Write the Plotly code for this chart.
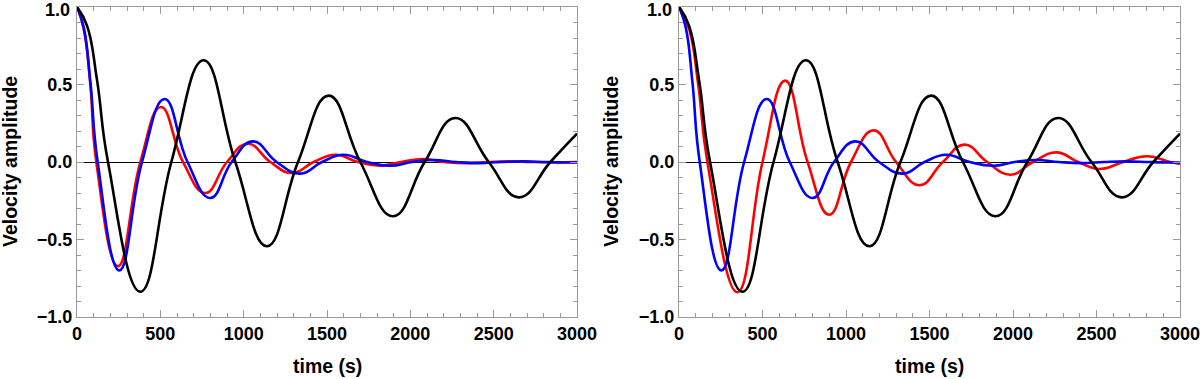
import plotly.graph_objects as go

# values (time in s, velocity amplitude)
t_black = [0, 60, 120, 186, 380, 566, 760, 950, 1140, 1326, 1510, 1700, 1896, 2086, 2270, 2470, 2652, 2840, 3000]
v_black = [1.0, 0.88, 0.53, 0.0, -0.837, 0.0, 0.656, 0.0, -0.544, 0.0, 0.428, 0.0, -0.35, 0.0, 0.284, 0.0, -0.228, 0.0, 0.183]

t_blue = [0, 40, 80, 124, 254, 390, 526, 663, 800, 928, 1056, 1198, 1340, 1470, 1600, 1740, 1880, 2010, 2140,
          2275, 2410, 2545, 2680, 2815, 2950, 3000]
v_blue = [1.0, 0.87, 0.52, 0.0, -0.70, 0.0, 0.406, 0.0, -0.232, 0.0, 0.133, 0.0, -0.075, 0.0, 0.047, 0.0, -0.024, 0.0, 0.013,
          0.0, -0.007, 0.0, 0.004, 0.0, -0.003, -0.003]

# left panel red
t_red_a = [0, 40, 80, 116, 246, 380, 504, 636, 770, 900, 1025, 1160, 1290, 1420, 1550, 1685, 1815, 1945, 2075,
           2205, 2335, 2465, 2595, 2725, 2855, 3000]
v_red_a = [1.0, 0.86, 0.5, 0.0, -0.673, 0.0, 0.355, 0.0, -0.2, 0.0, 0.118, 0.0, -0.071, 0.0, 0.047, 0.0, -0.024, 0.0, 0.019,
           0.0, -0.008, 0.0, 0.005, 0.0, -0.002, 0.0]

# right panel red
t_red_b = [0, 60, 115, 170, 350, 500, 636, 770, 900, 1030, 1166, 1300, 1440, 1580, 1710, 1845, 1984, 2120, 2260,
           2390, 2520, 2660, 2800, 2940, 3000]
v_red_b = [1.0, 0.86, 0.5, 0.0, -0.84, 0.0, 0.525, 0.0, -0.34, 0.0, 0.204, 0.0, -0.15, 0.0, 0.112, 0.0, -0.082, 0.0, 0.062,
           0.0, -0.045, 0.0, 0.037, 0.0, -0.013]

y_ticks = [-1.0, -0.5, 0.0, 0.5, 1.0]
y_labels = ["\u22121.0", "\u22120.5", "0.0", "0.5", ""]  # top label placed separately so it stays inside the page

panels = [("x", "y", t_red_a, v_red_a), ("x2", "y2", t_red_b, v_red_b)]

fig = go.Figure()
for xa, ya, tr, vr in panels:
    for t, v, c in [(tr, vr, "#ff0000"), (t_blue, v_blue, "#0000ff"), (t_black, v_black, "black")]:
        fig.add_trace(go.Scatter(x=t, y=v, mode="lines", xaxis=xa, yaxis=ya,
                                 line=dict(color=c, width=2.6, shape="spline", smoothing=1.3),
                                 hoverinfo="skip"))

fnt = dict(family="Liberation Sans, Arial", size=18, color="black", weight="bold")
frame = dict(showline=True, linecolor="#9a9a9a", linewidth=1, mirror="allticks",
             ticks="inside", ticklen=7, tickcolor="#9a9a9a", tickwidth=1,
             showgrid=False, tickfont=fnt, automargin=False, ticklabeloverflow="allow")

xa = dict(frame, range=[0, 3000], dtick=500, tick0=0, zeroline=False,
          minor=dict(ticks="inside", ticklen=4, tickcolor="#9a9a9a", dtick=100, showgrid=False))
ya = dict(frame, range=[-1, 1], tickvals=y_ticks, ticktext=y_labels,
          zeroline=True, zerolinecolor="black", zerolinewidth=1,
          minor=dict(ticks="inside", ticklen=4, tickcolor="#9a9a9a", dtick=0.1, tick0=0, showgrid=False))

H = 379
fig.update_layout(
    width=1200, height=H,
    margin=dict(l=0, r=0, t=0, b=0),
    plot_bgcolor="white", paper_bgcolor="white",
    showlegend=False,
    xaxis=dict(xa, domain=[77 / 1200, 577 / 1200], anchor="y"),
    yaxis=dict(ya, domain=[(H - 317) / H, (H - 7) / H], anchor="x"),
    xaxis2=dict(xa, domain=[679 / 1200, 1180 / 1200], anchor="y2"),
    yaxis2=dict(ya, domain=[(H - 317) / H, (H - 7) / H], anchor="x2"),
)

tfont = dict(family="Liberation Sans, Arial", size=19.5, color="black", weight="bold")
for xd, xpos, axr in [("x domain", 10, 70), ("x2 domain", 611, 672)]:
    fig.add_annotation(text="time (s)", xref=xd, x=0.5, yref="paper", y=(H - 366) / H,
                       showarrow=False, font=tfont, yanchor="middle")
    fig.add_annotation(text="Velocity amplitude", xref="paper", x=xpos / 1200, yref="paper", y=(H - 162) / H,
                       textangle=-90, showarrow=False, font=tfont, xanchor="center", yanchor="middle")
    fig.add_annotation(text="1.0", xref="paper", x=axr / 1200, yref="paper", y=(H - 10) / H,
                       showarrow=False, font=fnt, xanchor="right", yanchor="middle",
                       borderpad=0, borderwidth=0)

fig.write_html("out.html", config={"displayModeBar": False},
               post_script="document.body.style.margin='0';")
